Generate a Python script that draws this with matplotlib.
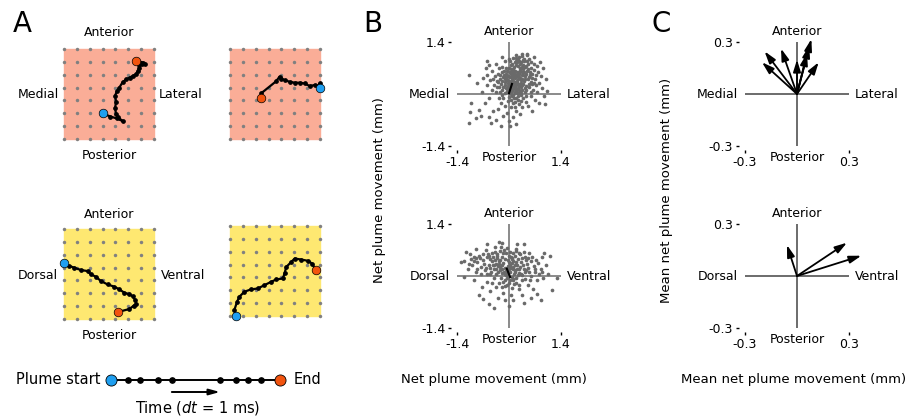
import numpy as np
import matplotlib
matplotlib.use("Agg")
import matplotlib.pyplot as plt

plt.rcParams['font.family'] = ['DejaVu Sans']
plt.rcParams['axes.unicode_minus'] = False

# panel A: plume trajectories on the 8x8 electrode grid (grid units)
traj1_x = [3.0, 3.6, 4.1, 4.55, 4.2, 4.05, 3.97, 4.05, 3.97, 4.1, 4.3, 4.55, 4.85, 5.1, 5.35, 5.6, 5.75, 5.85, 5.85, 6.05, 6.3, 6.15, 5.6]
traj1_y = [2.0, 1.75, 1.6, 1.4, 1.7, 1.95, 2.4, 2.9, 3.35, 3.7, 4.0, 4.4, 4.65, 4.78, 4.9, 5.05, 5.3, 5.55, 5.75, 5.85, 5.8, 5.95, 6.08]
traj2_x = [7.0, 6.98, 6.85, 6.6, 6.2, 5.8, 5.42, 5.03, 4.64, 4.25, 3.98, 3.85, 3.6, 2.42, 2.4]
traj2_y = [4.0, 4.35, 4.12, 4.2, 4.12, 4.32, 4.38, 4.38, 4.45, 4.58, 4.7, 4.85, 4.5, 3.55, 3.2]
traj3_x = [0.0, 0.39, 0.78, 1.31, 1.83, 2.09, 2.48, 2.87, 3.39, 3.92, 4.31, 4.7, 5.09, 5.35, 5.54, 5.61, 5.43, 5.09, 4.23]
traj3_y = [4.33, 4.13, 4.0, 3.81, 3.73, 3.47, 3.29, 2.95, 2.69, 2.51, 2.3, 2.04, 1.91, 1.78, 1.46, 1.2, 1.04, 0.78, 0.55]
traj4_x = [0.47, 0.34, 0.55, 0.73, 1.12, 1.64, 2.16, 2.68, 3.2, 3.59, 4.11, 4.24, 4.38, 4.77, 5.03, 5.55, 6.07, 6.38, 6.67]
traj4_y = [0.0, 0.47, 1.11, 1.5, 1.89, 2.07, 2.14, 2.4, 2.66, 2.84, 2.92, 3.31, 3.82, 4.21, 4.47, 4.39, 4.29, 4.08, 3.57]

# legend schematic: sample times (ms)
legend_times = [0, 1.0, 1.7, 2.8, 3.6, 6.45, 7.4, 8.1, 8.9, 10]

# panel B: net plume movement (mm), medial/lateral vs posterior/anterior
ml_x = [0.12, 0.05, 0.18, -0.02, 0.21, 0.09, 0.27, -0.08, 0.15, 0.02, 0.31, -0.12, 0.24, 0.07, 0.36, -0.05, 0.19, 0.11, 0.40, -0.18,
        0.28, 0.00, 0.33, -0.15, 0.22, 0.14, 0.04, 0.26, -0.04, 0.17, 0.08, 0.30, -0.10, 0.45, 0.13, -0.22, 0.37, 0.06, 0.20, -0.25,
        0.43, 0.10, 0.29, -0.07, 0.50, -0.20, 0.35, 0.01, 0.24, -0.13, 0.48, 0.55, 0.16, -0.03, 0.39, -0.28, 0.58, 0.42, 0.08, -0.18,
        0.33, 0.18, 0.52, 0.62, 0.65, -0.32, -0.30, -0.35, 0.26, -0.10, 0.05, 0.45, 0.70, 0.60, 0.72, -0.40, -0.38, -0.27, 0.12, 0.28,
        0.40, 0.55, 0.68, 0.78, 0.80, 0.75, 0.58, 0.35, -0.22, -0.45, -0.50, -0.45, -0.10, 0.00, 0.85, 0.88, 0.70, 0.52, 0.20, -0.05,
        -0.30, -0.55, -0.60, -0.58, -0.35, 0.20, 0.48, 0.66, 0.92, 0.95, 0.82, 0.30, 0.10, -0.15, -0.42, -0.65, -0.72, -0.70, -0.55, -0.58,
        -1.07, -1.02, -1.04, -1.09, -0.89, -0.76, -0.80, -0.55, -0.35, -0.22, 0.04, 0.18, 0.00, 0.96, 1.02, 0.84, 0.36, 0.49, -0.18, -0.62,
        -0.85, 1.00, 0.62, -0.48,
        0.03, 0.14, 0.23, 0.07, 0.19, -0.01, 0.16, 0.25, 0.11, -0.06, 0.32, 0.09, 0.21, -0.11, 0.38, 0.02, 0.14, 0.30, 0.44, 0.47,
        0.25, -0.16, 0.06, -0.02, 0.34, 0.17, 0.41, -0.09, 0.28, 0.12, 0.36, -0.14, 0.53, 0.10, -0.24, 0.57, 0.05, 0.22, 0.38, -0.20,
        0.63, 0.31, 0.15, -0.33, 0.48, -0.08, 0.66, 0.74, 0.45, -0.26, 0.60, 0.04, 0.25, -0.42, 0.76, 0.35, 0.58, -0.15, 0.20, 0.08,
        0.09, 0.17, 0.27, 0.00, 0.13, 0.22, 0.31, 0.05, -0.03, 0.19, 0.35, 0.11, 0.26, -0.08, 0.42, 0.15, 0.03, 0.29, 0.20, 0.37,
        -0.12, 0.08, 0.46, 0.24, 0.33, 0.51, 0.14, -0.19, 0.40, 0.06, 0.18, 0.27, 0.56, -0.05, 0.34, 0.12, 0.44, 0.23, 0.61, -0.23,
        0.30, 0.47, 0.09, 0.16, 0.38, -0.29, 0.68, 0.21, 0.54, 0.02]
ml_y = [0.25, 0.31, 0.14, 0.22, 0.35, 0.08, 0.21, 0.15, 0.42, 0.05, 0.30, 0.33, 0.04, 0.47, 0.12, 0.38, 0.52, -0.04, 0.35, 0.10,
        0.46, -0.08, -0.02, 0.45, 0.60, 0.18, 0.14, 0.28, 0.29, 0.33, 0.38, 0.09, 0.02, 0.22, 0.56, 0.28, 0.50, -0.15, -0.10, 0.40,
        0.05, 0.62, 0.64, 0.55, 0.40, -0.02, 0.58, 0.70, 0.75, 0.62, 0.62, 0.18, -0.22, -0.20, -0.12, 0.18, 0.32, 0.72, 0.82, 0.72,
        0.85, 0.90, 0.80, 0.55, 0.12, 0.35, 0.55, 0.05, -0.28, -0.32, -0.35, -0.22, 0.40, 0.70, 0.25, 0.25, 0.48, 0.70, 0.98, 1.00,
        0.95, 0.95, 0.82, 0.60, 0.30, 0.05, -0.05, -0.35, -0.25, 0.10, 0.38, 0.62, 0.88, 0.95, 0.48, 0.15, -0.15, -0.32, -0.45, -0.50,
        -0.40, -0.10, 0.25, 0.50, 0.80, 1.05, 1.05, 1.00, 0.70, -0.05, -0.25, -0.55, -0.62, -0.60, -0.45, -0.25, 0.05, 0.42, 0.78, 0.88,
        0.52, -0.24, -0.49, -0.77, -0.64, -0.60, -0.42, -0.62, -0.70, -0.86, -0.86, -0.82, -0.72, -0.28, 0.07, 0.87, 1.07, 1.07, 1.00, 0.70,
        0.30, 0.40, -0.45, -0.78,
        0.18, 0.29, 0.17, 0.26, 0.24, 0.35, 0.06, 0.40, 0.13, 0.08, 0.19, 0.44, 0.49, 0.24, 0.28, 0.58, 0.72, 0.70, 0.48, 0.10,
        -0.05, 0.20, 0.00, 0.48, 0.40, 0.62, 0.60, 0.42, 0.55, 0.35, 0.25, 0.52, 0.28, -0.25, 0.05, 0.50, 0.78, 0.85, 0.78, 0.58,
        0.42, -0.18, -0.35, 0.20, 0.88, 0.70, 0.65, 0.50, -0.05, -0.12, 0.05, 0.90, 0.95, 0.40, 0.75, 1.02, 0.85, -0.12, 0.10, 0.20,
        0.32, 0.20, 0.12, 0.26, 0.45, 0.30, 0.38, 0.55, 0.17, 0.06, 0.52, 0.68, 0.60, 0.48, 0.40, 0.02, 0.10, 0.80, 0.78, 0.66,
        0.40, 0.60, 0.55, -0.15, 0.02, 0.66, -0.10, 0.35, 0.88, 0.68, 0.98, 0.88, 0.60, 0.62, 0.72, 0.50, 0.15, 0.55, 0.28, 0.50,
        0.42, 0.75, -0.05, 0.85, 0.92, 0.32, 0.30, 0.30, 0.45, 0.45]
ml_mean = ([0.0, 0.08], [0.02, 0.27])

# panel B: dorsal/ventral vs posterior/anterior
dv_x = [-0.05, 0.04, -0.12, 0.10, -0.20, 0.02, -0.08, 0.15, -0.25, 0.08, -0.15, 0.22, -0.30, 0.18, -0.02, 0.28, -0.35, -0.10, 0.05, 0.32,
        -0.40, 0.12, -0.22, 0.25, -0.45, 0.00, 0.38, -0.18, 0.42, -0.50, 0.20, -0.32, 0.10, -0.08, 0.45, -0.55, 0.35, -0.28, 0.52, -0.60,
        -0.40, 0.30, -0.12, 0.08, 0.58, -0.65, 0.60, -0.45, -0.25, 0.18, -0.70, 0.40, 0.26, -0.35, 0.66, -0.05, -0.75, 0.70, -0.58, -0.80,
        0.50, -0.15, 0.05, -0.85, 0.78, 0.75, -0.90, -0.95, 0.55, -0.62, -1.00, 0.85, -0.38, 0.22, -0.20, 0.88, -1.05, -1.10, 0.92, 0.65,
        -0.72, -0.50, 0.35, -0.30, 0.12, -1.20, -1.15, -1.28, -0.95, 1.00, 1.05, 1.15, 0.86, 1.29, -0.40, -0.55, -0.27, -0.80, 0.60, 0.40,
        0.00, -0.10, 1.10, 0.95, 0.40, -0.60, -0.88, -1.22, -0.70, 0.75,
        -0.07, 0.01, -0.14, 0.07, -0.18, 0.14, -0.03, -0.28, 0.20, -0.10, 0.30, -0.36, 0.12, -0.24, 0.03, -0.42, 0.26, -0.50, 0.40, -0.16,
        0.16, -0.06, 0.48, -0.33, -0.52, 0.34, -0.66, 0.10, 0.55, -0.22, 0.02, -0.78, 0.62, -0.85, 0.70, -0.95, 0.44, -0.45, 0.28, -0.20,
        -0.60, 0.82, -1.02, 0.15, -0.30, 0.00, -0.12, 0.22, -0.04, -0.38,
        -0.09, 0.06, -0.20, 0.17, -0.27, 0.09, -0.01, -0.34, 0.24, -0.44, 0.33, -0.13, 0.11, -0.57, 0.47, -0.23, 0.04, -0.70, 0.57, -0.40,
        0.27, -0.48, 0.36, -0.88, -0.62, 0.19, -0.06, 0.52, -0.16, 0.13, -0.31, 0.74, -0.75, 0.01, -0.54, 0.42, -1.08, 0.90, -0.37, 0.08]
dv_y = [0.15, 0.10, 0.22, 0.24, 0.08, 0.30, 0.02, 0.12, 0.25, -0.02, 0.36, 0.30, 0.12, -0.06, 0.42, 0.18, 0.32, -0.10, 0.50, 0.05,
        0.18, 0.40, -0.05, 0.45, 0.40, -0.18, 0.30, 0.52, 0.10, 0.05, -0.20, 0.48, 0.62, 0.62, 0.42, 0.30, -0.12, -0.18, 0.22, 0.50,
        -0.05, 0.58, -0.28, -0.32, 0.00, 0.15, 0.40, 0.62, 0.68, 0.72, 0.42, 0.65, -0.35, -0.30, 0.28, 0.75, 0.25, 0.10, -0.15, 0.55,
        -0.25, -0.45, -0.50, 0.38, 0.35, -0.10, 0.10, 0.50, 0.62, 0.70, 0.30, 0.20, 0.78, 0.85, 0.88, 0.52, 0.58, 0.20, -0.05, -0.35,
        -0.30, -0.40, -0.50, -0.58, -0.65, 0.40, 0.65, 0.38, -0.10, 0.30, 0.05, -0.38, -0.65, -0.06, -0.87, -0.75, 0.92, -0.50, -0.60, -0.72,
        -0.80, -0.65, 0.55, 0.62, 0.85, 0.85, 0.72, -0.02, -0.62, -0.48,
        0.20, 0.18, 0.12, 0.35, 0.30, 0.05, 0.08, 0.40, 0.38, 0.45, 0.25, 0.05, 0.18, 0.15, 0.25, 0.52, 0.08, 0.22, 0.20, -0.15,
        0.55, -0.05, 0.32, 0.60, 0.45, 0.48, 0.32, -0.12, 0.10, 0.78, 0.65, 0.48, 0.50, 0.20, 0.20, 0.40, -0.08, -0.20, -0.25, -0.30,
        0.05, 0.05, 0.45, 0.30, 0.28, 0.38, 0.05, 0.20, 0.28, 0.42,
        0.10, 0.22, 0.20, 0.15, 0.32, 0.45, 0.55, 0.18, 0.02, 0.30, 0.38, 0.70, -0.08, 0.60, 0.15, 0.42, -0.10, 0.60, -0.12, 0.30,
        0.62, 0.10, 0.02, 0.48, 0.22, 0.68, -0.25, 0.48, 0.62, -0.22, 0.55, 0.44, 0.05, 0.12, 0.55, 0.52, 0.32, 0.12, 0.65, 0.48]
dv_mean = ([-0.06, 0.03], [0.20, -0.03])

# panel C: mean net plume movement per recording (mm)
c_ml_x = [-0.187, -0.202, -0.092, 0.0, 0.083, 0.071, 0.058, 0.125]
c_ml_y = [0.246, 0.183, 0.262, 0.198, 0.317, 0.279, 0.235, 0.183]
c_dv_x = [-0.058, 0.288, 0.371]
c_dv_y = [0.179, 0.192, 0.117]

W, H = 922, 417
fig = plt.figure(figsize=(W / 100, H / 100), dpi=100)


def box(left, top, w, h):
    return [left / W, 1 - (top + h) / H, w / W, h / H]


BLUE = '#1f9ff0'
ORANGE = '#f2540f'
PINK = '#faad97'
YELLOW = '#fee871'
FS = 9


def grid_square(ax, color, tx, ty):
    ax.set_xlim(-0.5, 7.5)
    ax.set_ylim(-0.5, 7.5)
    ax.axis('off')
    ax.add_patch(plt.Rectangle((0, 0), 7, 7, color=color, zorder=0))
    gx, gy = np.meshgrid(np.arange(8), np.arange(8))
    ax.plot(gx.ravel(), gy.ravel(), 'o', color='#808080', ms=2.5, mew=0, clip_on=False, zorder=1)
    ax.plot(tx, ty, '-o', color='k', lw=1.6, ms=2.4, clip_on=False, zorder=2)
    ax.plot(tx[0], ty[0], 'o', color=BLUE, ms=6.2, mec='k', mew=0.5, clip_on=False, zorder=3)
    ax.plot(tx[-1], ty[-1], 'o', color=ORANGE, ms=6.2, mec='k', mew=0.5, clip_on=False, zorder=3)


unit = 90 / 7
a1 = fig.add_axes(box(64 - unit / 2, 49 - unit / 2, 8 * unit, 8 * unit))
grid_square(a1, PINK, traj1_x, traj1_y)
a1.text(3.5, 8.3, 'Anterior', ha='center', va='center', fontsize=FS)
a1.text(3.5, -1.3, 'Posterior', ha='center', va='center', fontsize=FS)
a1.text(-0.4, 3.45, 'Medial', ha='right', va='center', fontsize=FS)
a1.text(7.4, 3.45, 'Lateral', ha='left', va='center', fontsize=FS)

a2 = fig.add_axes(box(230 - unit / 2, 49 - unit / 2, 8 * unit, 8 * unit))
grid_square(a2, PINK, traj2_x, traj2_y)

a3 = fig.add_axes(box(64 - unit / 2, 229 - unit / 2, 8 * unit, 8 * unit))
grid_square(a3, YELLOW, traj3_x, traj3_y)
a3.text(3.5, 8.1, 'Anterior', ha='center', va='center', fontsize=FS)
a3.text(3.5, -1.3, 'Posterior', ha='center', va='center', fontsize=FS)
a3.text(-0.5, 3.4, 'Dorsal', ha='right', va='center', fontsize=FS)
a3.text(7.5, 3.4, 'Ventral', ha='left', va='center', fontsize=FS)

a4 = fig.add_axes(box(230 - unit / 2, 226 - unit / 2, 8 * unit, 8 * unit))
grid_square(a4, YELLOW, traj4_x, traj4_y)

# legend schematic
lg = fig.add_axes(box(111, 371.6, 169, 45.6))
lg.set_xlim(0, 10)
lg.set_ylim(-3.1, 0.7)
lg.axis('off')
lg.plot(legend_times, [0] * len(legend_times), '-o', color='k', lw=1.4, ms=3.8, clip_on=False)
lg.plot(legend_times[0], 0, 'o', color=BLUE, ms=8, mec='k', mew=0.6, clip_on=False)
lg.plot(legend_times[-1], 0, 'o', color=ORANGE, ms=8, mec='k', mew=0.6, clip_on=False)
lg.annotate('', xy=(legend_times[5], -1), xytext=(legend_times[4], -1),
            arrowprops=dict(arrowstyle='-|>,head_length=0.8,head_width=0.22', color='k', lw=1.4,
                            mutation_scale=8, shrinkA=0, shrinkB=0))
lg.text(-0.65, 0, 'Plume start', ha='right', va='center', fontsize=10.5)
lg.text(10.8, 0, 'End', ha='left', va='center', fontsize=10.5)
lg.text(5.1, -2.33, 'Time ($dt$ = 1 ms)', ha='center', va='center', fontsize=10.5)


def cross_axes(rect, lim, labels):
    ax = fig.add_axes(rect)
    ax.set_xlim(-lim, lim)
    ax.set_ylim(-lim, lim)
    for s in ax.spines.values():
        s.set_visible(False)
    ax.spines['left'].set_position(('outward', 4))
    ax.spines['bottom'].set_position(('outward', 3))
    ax.set_xticks([-lim, lim])
    ax.set_yticks([-lim, lim])
    ax.set_xticklabels(['-%g' % lim, '%g' % lim])
    ax.set_yticklabels(['-%g' % lim, '%g' % lim])
    ax.tick_params(length=2.5, width=1, labelsize=FS, pad=2)
    ax.patch.set_alpha(0)
    k = lim / 1.4
    ax.text(0, lim + 0.29 * k, labels[0], ha='center', va='center', fontsize=FS)
    ax.text(0, -lim - 0.3 * k, labels[1], ha='center', va='center', fontsize=FS)
    ax.text(-lim - 0.2 * k, 0, labels[2], ha='right', va='center', fontsize=FS)
    ax.text(lim + 0.15 * k, 0, labels[3], ha='left', va='center', fontsize=FS)
    return ax


b1 = cross_axes(box(457, 42, 104, 104), 1.4, ['Anterior', 'Posterior', 'Medial', 'Lateral'])
b1.plot([-1.4, 1.4], [0, 0], color='#777777', lw=1.2, zorder=1)
b1.plot([0, 0], [-1.4, 1.4], color='#777777', lw=1.2, zorder=1)
b1.scatter(ml_x, ml_y, s=7, color='#6a6a6a', linewidths=0, zorder=2)
b1.plot(ml_mean[0], ml_mean[1], color='k', lw=1.5, zorder=3)

b2 = cross_axes(box(457, 224, 104, 104), 1.4, ['Anterior', 'Posterior', 'Dorsal', 'Ventral'])
b2.plot([-1.4, 1.4], [0, 0], color='#777777', lw=1.2, zorder=1)
b2.plot([0, 0], [-1.4, 1.4], color='#777777', lw=1.2, zorder=1)
b2.scatter(dv_x, dv_y, s=7, color='#6a6a6a', linewidths=0, zorder=2)
b2.plot(dv_mean[0], dv_mean[1], color='k', lw=1.5, zorder=3)

arrow_kw = dict(arrowstyle='-|>,head_length=0.9,head_width=0.28', color='k', lw=1.3,
                mutation_scale=8, shrinkA=0, shrinkB=0)

c1 = cross_axes(box(745, 42, 104, 104), 0.3, ['Anterior', 'Posterior', 'Medial', 'Lateral'])
c1.plot([-0.3, 0.3], [0, 0], color='#444444', lw=1.1, zorder=1)
c1.plot([0, 0], [-0.3, 0.3], color='#444444', lw=1.1, zorder=1)
for dx, dy in zip(c_ml_x, c_ml_y):
    c1.annotate('', xy=(dx, dy), xytext=(0, 0), arrowprops=arrow_kw, annotation_clip=False)

c2 = cross_axes(box(745, 224, 104, 104), 0.3, ['Anterior', 'Posterior', 'Dorsal', 'Ventral'])
c2.plot([-0.3, 0.3], [0, 0], color='#444444', lw=1.1, zorder=1)
c2.plot([0, 0], [-0.3, 0.3], color='#444444', lw=1.1, zorder=1)
for dx, dy in zip(c_dv_x, c_dv_y):
    c2.annotate('', xy=(dx, dy), xytext=(0, 0), arrowprops=arrow_kw, annotation_clip=False)

# axis titles and panel letters
fig.text(379 / W, 1 - 190 / H, 'Net plume movement (mm)', rotation=90, ha='center', va='center', fontsize=9.5)
fig.text(494 / W, 1 - 380 / H, 'Net plume movement (mm)', ha='center', va='center', fontsize=9.5)
fig.text(666 / W, 1 - 190 / H, 'Mean net plume movement (mm)', rotation=90, ha='center', va='center', fontsize=9.5)
fig.text(794 / W, 1 - 380 / H, 'Mean net plume movement (mm)', ha='center', va='center', fontsize=9.5)
fig.text(22 / W, 1 - 24 / H, 'A', ha='center', va='center', fontsize=20)
fig.text(373 / W, 1 - 24 / H, 'B', ha='center', va='center', fontsize=20)
fig.text(661 / W, 1 - 24 / H, 'C', ha='center', va='center', fontsize=20)

fig.savefig('out.png', dpi=100)
